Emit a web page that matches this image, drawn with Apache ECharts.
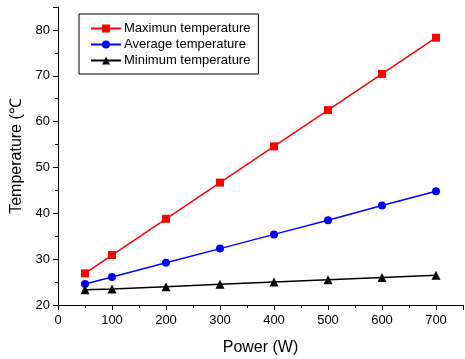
<!DOCTYPE html>
<html>
<head>
<meta charset="utf-8">
<script src="https://cdn.jsdelivr.net/npm/echarts@6/dist/echarts.min.js"></script>
<style>html,body{margin:0;padding:0;background:#fff}#c{width:465px;height:359px}</style>
</head>
<body>
<div id="c"></div>
<script>
var power = [50, 100, 200, 300, 400, 500, 600, 700];
var maxTemp = [26.9, 30.9, 38.8, 46.7, 54.6, 62.5, 70.4, 78.3];
var avgTemp = [24.6, 26.1, 29.2, 32.3, 35.4, 38.5, 41.7, 44.8];
var minTemp = [23.3, 23.5, 24.0, 24.5, 25.0, 25.5, 26.0, 26.5];
var seriesNames = ['Maximun temperature', 'Average temperature', 'Minimum temperature'];

function pairs(vals) { return power.map(function (p, i) { return [p, vals[i]]; }); }

var font = 'Arial, "Liberation Sans", sans-serif';
var chart = echarts.init(document.getElementById('c'), null, { renderer: 'canvas' });
chart.setOption({
  animation: false,
  grid: { left: 58, right: 2, top: 7, bottom: 54, containLabel: false, outerBoundsMode: 'none' },
  legend: {
    left: 79, top: 14, orient: 'vertical',
    data: seriesNames,
    itemWidth: 30, itemHeight: 10, itemGap: 3,
    borderColor: '#000', borderWidth: 1, borderRadius: 0,
    padding: [8, 8, 7, 11],
    textStyle: { fontFamily: font, fontSize: 13, color: '#000', padding: [0, 0, 0, -2] }
  },
  xAxis: {
    type: 'value', min: 0, max: 750, interval: 100,
    name: 'Power (W)', nameLocation: 'middle', nameGap: 35,
    nameTextStyle: { fontFamily: font, fontSize: 16, color: '#000' },
    axisLine: { show: true, onZero: false, lineStyle: { color: '#000', width: 1 } },
    axisTick: { show: true, inside: false, length: 5, lineStyle: { color: '#000' } },
    minorTick: { show: true, splitNumber: 2, length: 3, lineStyle: { color: '#000' } },
    axisLabel: { fontFamily: font, fontSize: 13, color: '#000', margin: 9, showMaxLabel: false,
      formatter: function (v) { return v > 700 ? '' : String(v); } },
    splitLine: { show: false }
  },
  yAxis: {
    type: 'value', min: 20, max: 85, interval: 10,
    name: 'Temperature (℃', nameLocation: 'middle', nameGap: 33,
    nameTextStyle: { fontFamily: font, fontSize: 16, color: '#000' },
    axisLine: { show: true, onZero: false, lineStyle: { color: '#000', width: 1 } },
    axisTick: { show: true, inside: false, length: 5, lineStyle: { color: '#000' } },
    minorTick: { show: true, splitNumber: 2, length: 3, lineStyle: { color: '#000' } },
    axisLabel: { fontFamily: font, fontSize: 13, color: '#000', margin: 8,
      formatter: function (v) { return v > 80 ? '' : String(v); } },
    splitLine: { show: false }
  },
  series: [
    { name: seriesNames[0], type: 'line', data: pairs(maxTemp), symbol: 'rect', symbolSize: 8,
      itemStyle: { color: '#ff0000' }, lineStyle: { color: '#ff0000', width: 1.5 } },
    { name: seriesNames[1], type: 'line', data: pairs(avgTemp), symbol: 'circle', symbolSize: 8,
      itemStyle: { color: '#0000ff' }, lineStyle: { color: '#0000ff', width: 1.5 } },
    { name: seriesNames[2], type: 'line', data: pairs(minTemp), symbol: 'triangle', symbolSize: 9,
      itemStyle: { color: '#000000' }, lineStyle: { color: '#000000', width: 1.5 } }
  ]
});
</script>
</body>
</html>
